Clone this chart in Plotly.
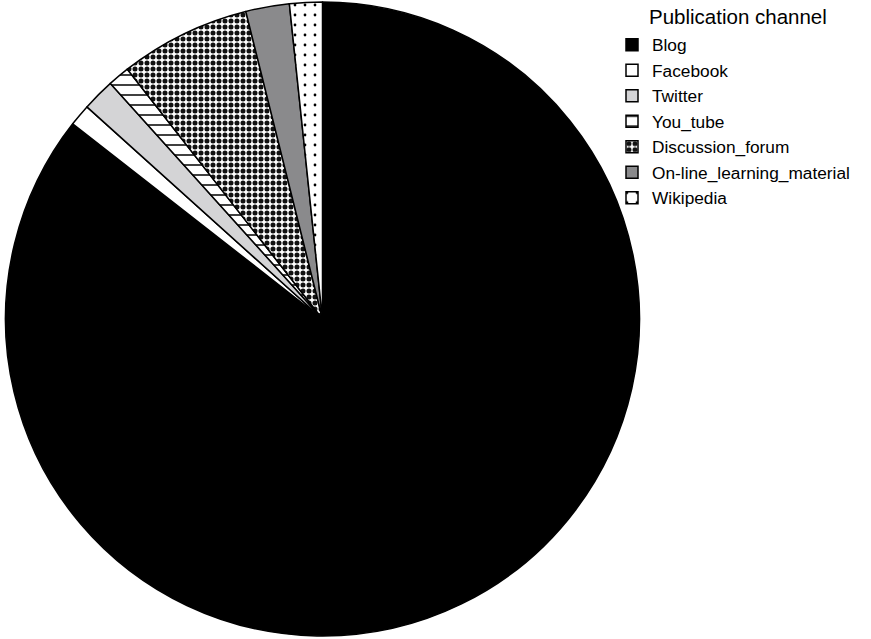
import plotly.graph_objects as go

channels = ["Blog", "Facebook", "Twitter", "You_tube", "Discussion_forum",
            "On-line_learning_material", "Wikipedia"]
counts = [154, 2, 3, 2, 12, 4, 3]
legend_title = "Publication channel"

fill_colors = ["#000000", "#ffffff", "#d4d4d6", "#ffffff", "#ffffff", "#8a8a8c", "#ffffff"]
pattern_shapes = ["", "", "", "-", ".", "", "."]
pattern_sizes = [8, 8, 8, 10, 6, 8, 10]
pattern_solidity = [0.3, 0.3, 0.3, 0.15, 0.55, 0.3, 0.06]
pattern_fg = ["#000000", "#000000", "#000000", "#000000", "#111111", "#000000", "#000000"]

W, H = 871, 639
cx, cy, r = 322.5, 319, 317

fig = go.Figure(go.Pie(
    labels=channels,
    values=counts,
    sort=False,
    direction="clockwise",
    rotation=0,
    textinfo="none",
    hoverinfo="label+value+percent",
    marker=dict(
        colors=fill_colors,
        line=dict(color="#000000", width=1.5),
        pattern=dict(
            shape=pattern_shapes,
            size=pattern_sizes,
            solidity=pattern_solidity,
            fgcolor=pattern_fg,
            bgcolor=fill_colors,
            fillmode="replace",
        ),
    ),
    domain=dict(x=[(cx - r) / W, (cx + r) / W], y=[(H - cy - r) / H, (H - cy + r) / H]),
))

fig.update_layout(
    width=W, height=H,
    margin=dict(l=0, r=0, t=0, b=0),
    paper_bgcolor="white",
    plot_bgcolor="white",
    font=dict(family="Liberation Sans, Arial, sans-serif", color="#000000"),
    showlegend=True,
    legend=dict(
        font=dict(size=17.3),
        x=612 / W, xanchor="left",
        y=1 - 27 / H, yanchor="top",
        traceorder="normal",
        bgcolor="rgba(0,0,0,0)",
        itemwidth=30,
    ),
    annotations=[dict(
        text=legend_title,
        x=647 / W, xref="paper", xanchor="left",
        y=1 - 16.5 / H, yref="paper", yanchor="middle",
        showarrow=False,
        font=dict(size=20.5, family="Liberation Sans, Arial, sans-serif", color="#000000"),
    )],
)

fig.write_html("out.html")
